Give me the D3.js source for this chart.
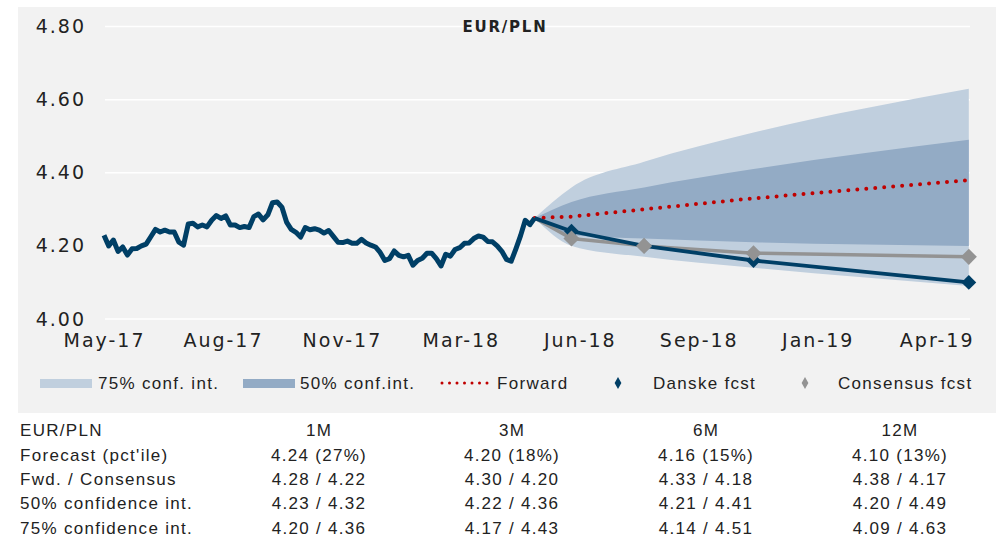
<!DOCTYPE html>
<html>
<head>
<meta charset="utf-8">
<script src="https://cdn.jsdelivr.net/npm/d3@7"></script>
<style>
  body { margin: 0; background: #fff; }
  svg { display: block; }
  .axis text { font-family: "DejaVu Sans", sans-serif; font-size: 19px; fill: #222; letter-spacing: 2px; }
  .lbl { font-family: "Liberation Sans", Arial, sans-serif; font-size: 17px; fill: #222; letter-spacing: 1.3px; }
</style>
</head>
<body>
<script>
// history (EUR/PLN spot, evenly spaced between start and end)
const histStart = "2017-05-12", histEnd = "2018-05-09";
const histValues = [
  4.229, 4.200, 4.216, 4.185, 4.197, 4.175, 4.192, 4.193, 4.200, 4.205,
  4.225, 4.245, 4.238, 4.243, 4.238, 4.238, 4.210, 4.202, 4.260, 4.262,
  4.252, 4.257, 4.252, 4.270, 4.283, 4.275, 4.282, 4.257, 4.257, 4.250,
  4.253, 4.250, 4.280, 4.287, 4.271, 4.285, 4.318, 4.320, 4.306, 4.265,
  4.245, 4.237, 4.224, 4.250, 4.244, 4.247, 4.243, 4.235, 4.242, 4.226,
  4.210, 4.209, 4.213, 4.207, 4.207, 4.218, 4.208, 4.202, 4.197, 4.182,
  4.160, 4.165, 4.186, 4.174, 4.170, 4.174, 4.147, 4.160, 4.166, 4.180,
  4.180, 4.165, 4.145, 4.177, 4.172, 4.190, 4.195, 4.207, 4.208, 4.220,
  4.227, 4.224, 4.212, 4.211, 4.200, 4.185, 4.163, 4.158, 4.192, 4.228,
  4.270, 4.258, 4.276
];

// forecasts
const horizons = ["1M", "3M", "6M", "12M"];
const fcstDates = ["2018-06-09", "2018-08-09", "2018-11-09", "2019-05-09"];
const danske = [4.24, 4.20, 4.16, 4.10];
const pctile = ["27%", "18%", "15%", "13%"];
const consensus = [4.22, 4.20, 4.18, 4.17];
const forward = [4.28, 4.30, 4.33, 4.38];
const ci50Lo = [4.23, 4.22, 4.21, 4.20];
const ci50Hi = [4.32, 4.36, 4.41, 4.49];
const ci75Lo = [4.20, 4.17, 4.14, 4.09];
const ci75Hi = [4.36, 4.43, 4.51, 4.63];

// axes
const yTicks = [4.0, 4.2, 4.4, 4.6, 4.8];
const xTickDates = ["2017-05-12", "2017-08-20", "2017-11-28", "2018-03-08",
                    "2018-06-16", "2018-09-24", "2019-01-02", "2019-04-12"];

const legendNames = ["75% conf. int.", "50% conf.int.", "Forward", "Danske fcst", "Consensus fcst"];

const W = 996, H = 538;
const navy = "#003f66", grey = "#939393", red = "#c00000";
const c75 = "#c0cfde", c50 = "#93abc5";
const parse = d3.timeParse("%Y-%m-%d");

const svg = d3.select("body").append("svg").attr("width", W).attr("height", H);

// panel
svg.append("rect").attr("x", 18).attr("y", 7).attr("width", W - 18).attr("height", 406).attr("fill", "#f2f2f2");

const x = d3.scaleTime().domain([parse("2017-05-12"), parse("2019-05-10")]).range([104, 970]);
const y = d3.scaleLinear().domain([4.0, 4.8]).range([319, 26.5]);

// gridlines
svg.append("g").selectAll("line").data(yTicks).enter().append("line")
  .attr("x1", 105).attr("x2", 970)
  .attr("y1", d => y(d)).attr("y2", d => y(d))
  .attr("stroke", "#fff").attr("stroke-width", 1.5);

// y axis
svg.append("g").attr("class", "axis").attr("transform", "translate(86,0)")
  .call(d3.axisLeft(y).tickValues(yTicks).tickFormat(d3.format(".2f")).tickSize(0).tickPadding(0))
  .call(g => g.select(".domain").remove());

// x axis
svg.append("g").attr("class", "axis").attr("transform", "translate(0,331)")
  .call(d3.axisBottom(x).tickValues(xTickDates.map(parse)).tickFormat(d3.timeFormat("%b-%y")).tickSize(0).tickPadding(2))
  .call(g => g.select(".domain").remove());

// title
svg.append("text").attr("x", 505).attr("y", 32).attr("text-anchor", "middle")
  .style("font-family", "DejaVu Sans, sans-serif").style("font-size", "15px")
  .style("font-weight", "bold").style("letter-spacing", "1.8px").attr("fill", "#222")
  .text("EUR/PLN");

// data
const t0 = parse(histStart), t1 = parse(histEnd);
const hist = histValues.map((v, i) => ({ date: new Date(+t0 + (t1 - t0) * i / (histValues.length - 1)), value: v }));
const spot = hist[hist.length - 1];
const fd = fcstDates.map(parse);

const band = (lo, hi) => [{ date: spot.date, lo: spot.value, hi: spot.value }]
  .concat(fd.map((d, i) => ({ date: d, lo: lo[i], hi: hi[i] })));
const series = vals => [{ date: spot.date, value: spot.value }].concat(fd.map((d, i) => ({ date: d, value: vals[i] })));

const area = d3.area().x(d => x(d.date)).y0(d => y(d.lo)).y1(d => y(d.hi)).curve(d3.curveMonotoneX);
const line = d3.line().x(d => x(d.date)).y(d => y(d.value));

svg.append("path").attr("d", area(band(ci75Lo, ci75Hi))).attr("fill", c75);
svg.append("path").attr("d", area(band(ci50Lo, ci50Hi))).attr("fill", c50);

svg.append("path").attr("d", line(series(forward))).attr("fill", "none")
  .attr("stroke", red).attr("stroke-width", 4).attr("stroke-linecap", "round")
  .attr("stroke-dasharray", "0 9");

svg.append("path").attr("d", line(series(consensus))).attr("fill", "none")
  .attr("stroke", grey).attr("stroke-width", 3.5);

svg.append("path").attr("d", line(hist)).attr("fill", "none")
  .attr("stroke", navy).attr("stroke-width", 5).attr("stroke-linejoin", "round");

svg.append("path").attr("d", line(series(danske))).attr("fill", "none")
  .attr("stroke", navy).attr("stroke-width", 3.8).attr("stroke-linejoin", "round");

const diamond = (size) => d3.symbol(d3.symbolSquare, size);
svg.append("g").selectAll("path").data(danske).enter().append("path")
  .attr("d", diamond(110))
  .attr("transform", (d, i) => `translate(${x(fd[i])},${y(d)}) rotate(45)`)
  .attr("fill", navy);
svg.append("g").selectAll("path").data(consensus).enter().append("path")
  .attr("d", diamond(130))
  .attr("transform", (d, i) => `translate(${x(fd[i])},${y(d)}) rotate(45)`)
  .attr("fill", grey);

// legend
const lg = svg.append("g");
const ly = 383;
lg.append("rect").attr("x", 40).attr("y", ly - 4).attr("width", 52).attr("height", 9).attr("fill", c75);
lg.append("rect").attr("x", 243).attr("y", ly - 4).attr("width", 52).attr("height", 9).attr("fill", c50);
lg.append("line").attr("x1", 442).attr("x2", 490).attr("y1", ly).attr("y2", ly)
  .attr("stroke", red).attr("stroke-width", 3).attr("stroke-linecap", "round").attr("stroke-dasharray", "0 7.5");
lg.append("path").attr("d", d3.symbol(d3.symbolDiamond, 40)).attr("transform", `translate(618,${ly})`).attr("fill", navy);
lg.append("path").attr("d", d3.symbol(d3.symbolDiamond, 40)).attr("transform", `translate(805,${ly})`).attr("fill", grey);
const legendX = [98, 300, 497, 653, 838];
lg.selectAll("text").data(legendNames).enter().append("text")
  .attr("class", "lbl").attr("x", (d, i) => legendX[i]).attr("y", ly + 6).text(d => d);

// table
const rows = [
  ["EUR/PLN"].concat(horizons),
  ["Forecast (pct'ile)"].concat(danske.map((v, i) => `${v.toFixed(2)} (${pctile[i]})`)),
  ["Fwd. / Consensus"].concat(forward.map((v, i) => `${v.toFixed(2)} / ${consensus[i].toFixed(2)}`)),
  ["50% confidence int."].concat(ci50Lo.map((v, i) => `${v.toFixed(2)} / ${ci50Hi[i].toFixed(2)}`)),
  ["75% confidence int."].concat(ci75Lo.map((v, i) => `${v.toFixed(2)} / ${ci75Hi[i].toFixed(2)}`))
];
const colX = [20, 319, 512, 706, 900];
const rowY = [436, 461, 485, 509, 534];
const tbl = svg.append("g");
rows.forEach((r, ri) => {
  tbl.selectAll(null).data(r).enter().append("text")
    .attr("class", "lbl")
    .attr("x", (d, ci) => colX[ci])
    .attr("y", rowY[ri])
    .attr("text-anchor", (d, ci) => ci === 0 ? "start" : "middle")
    .text(d => d);
});
</script>
</body>
</html>
